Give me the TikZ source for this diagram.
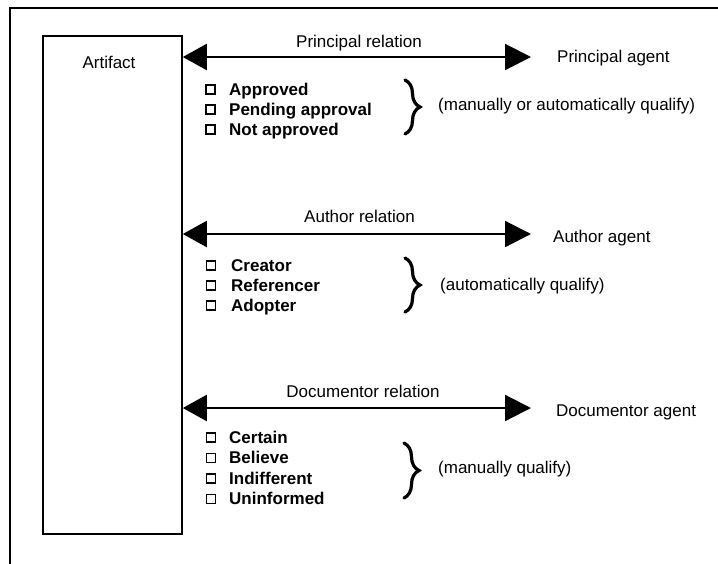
\documentclass[tikz,border=0pt]{standalone}
\usepackage{fontspec}
\setmainfont{Liberation Sans}
\usetikzlibrary{arrows.meta,decorations.pathreplacing}
\begin{document}
\begin{tikzpicture}[x=1pt,y=-1pt,
  txt/.style={inner sep=0pt,anchor=base west,font=\fontsize{17}{20}\selectfont},
  ctr/.style={txt,anchor=base},
  item/.style={txt,font=\fontsize{17}{20}\selectfont\bfseries},
  chk/.style={draw,line width=1.4pt,minimum size=9pt,inner sep=0pt},
  frame/.style={line width=1.8pt},
  rel/.style={line width=2.2pt,
    {Triangle[length=24pt,width=26pt]}-{Triangle[length=26pt,width=26pt]}},
  qual/.style={line width=3.2pt,line cap=round,decorate,decoration={brace,amplitude=15pt}}]
\useasboundingbox (0,0) rectangle (718,563);
% outer frame, running off the right and bottom edges
\begin{scope}
  \clip (0,0) rectangle (718,563);
  \draw[frame] (10,600) -- (10,8) -- (760,8);
\end{scope}

% artifact box
\node[draw,frame,minimum width=139pt,minimum height=498pt,anchor=north west]
  (artifact) at (42,35) {};
\node[ctr] (artlbl) at (109,68) {Artifact};

% ---- principal relation
\node[ctr] (prel) at (359,47) {Principal relation};
\node[txt] (pagent) at (557,62.5) {Principal agent};
\coordinate (pend) at (531,57);
\draw[rel] (artifact.east |- pend) -- (pend);
\node[chk] (pc1) at (210.5,89.5) {};
\node[chk] (pc2) at (210.5,109.5) {};
\node[chk] (pc3) at (210.5,129.5) {};
\node[item] (pi1) at (229,95) {Approved};
\node[item] (pi2) at (229,115) {Pending approval};
\node[item] (pi3) at (229,135) {Not approved};
\coordinate (pb1) at (405,80);
\coordinate (pb2) at (405,134);
\draw[qual] (pb1) -- (pb2);
\node[txt] (pq) at (438,110) {(manually or automatically qualify)};

% ---- author relation
\node[ctr] (arel) at (359.5,222) {Author relation};
\node[txt] (aagent) at (553,242) {Author agent};
\coordinate (aend) at (531,234);
\draw[rel] (artifact.east |- aend) -- (aend);
\node[chk] (ac1) at (211,265.5) {};
\node[chk] (ac2) at (211,285.5) {};
\node[chk] (ac3) at (211,305.5) {};
\node[item] (ai1) at (231,271) {Creator};
\node[item] (ai2) at (231,291) {Referencer};
\node[item] (ai3) at (231,311) {Adopter};
\coordinate (ab1) at (405,258);
\coordinate (ab2) at (405,312);
\draw[qual] (ab1) -- (ab2);
\node[txt] (aq) at (440,290) {(automatically qualify)};

% ---- documentor relation
\node[ctr] (drel) at (363,397) {Documentor relation};
\node[txt] (dagent) at (556,416) {Documentor agent};
\coordinate (dend) at (531,408);
\draw[rel] (artifact.east |- dend) -- (dend);
\node[chk] (dc1) at (211,437.5) {};
\node[chk] (dc2) at (211,458) {};
\node[chk] (dc3) at (211,478.5) {};
\node[chk] (dc4) at (211,499) {};
\node[item] (di1) at (229,443) {Certain};
\node[item] (di2) at (229,463.5) {Believe};
\node[item] (di3) at (229,484) {Indifferent};
\node[item] (di4) at (229,504.5) {Uninformed};
\coordinate (db1) at (404,443);
\coordinate (db2) at (404,498);
\draw[qual] (db1) -- (db2);
\node[txt] (dq) at (438,473) {(manually qualify)};
\end{tikzpicture}
\end{document}
